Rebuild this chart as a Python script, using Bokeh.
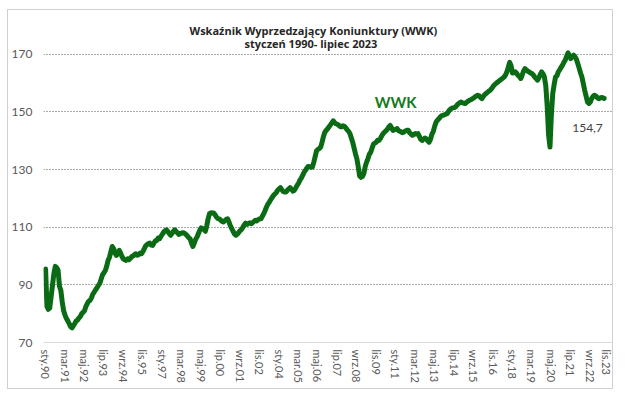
from bokeh.plotting import figure
from bokeh.models import Range1d, FixedTicker, Label, ColumnDataSource, Title
from bokeh.embed import file_html
from bokeh.resources import INLINE

# Monthly WWK values, Jan 1990 - Jul 2023
y1990 = [95.5, 82.5, 81.5, 82, 86, 90, 94, 96.4, 96, 95, 89.5, 88]
y1991 = [84, 81, 79.5, 78.3, 77.5, 76.5, 75.5, 75.1, 75.8, 76.6, 77.5, 77.8]
y1992 = [78.5, 79, 80, 80.5, 81, 82.5, 83.5, 84.3, 84.6, 85.5, 86.8, 87.5]
y1993 = [88.3, 89, 89.8, 90.5, 92, 93.5, 94.2, 95, 96.5, 98.5, 99.6, 101.5]
y1994 = [103.3, 102.5, 101, 100.2, 101, 102, 101, 99.8, 99, 98.7, 98.5, 99]
y1995 = [98.7, 99.2, 99.8, 100, 100.5, 100.8, 100.3, 100.5, 101, 100.8, 101.5, 102.5]
y1996 = [103.5, 104, 104.3, 104.5, 103.8, 103.7, 104.5, 105.3, 105.4, 106.2, 106, 106.8]
y1997 = [107.5, 108.3, 108.8, 109.1, 108.5, 107.8, 107.2, 107.8, 108.6, 109.1, 108.5, 108]
y1998 = [107.5, 107.8, 108, 108.1, 107.9, 107.5, 107, 106.4, 106, 104.5, 103.3, 104.5]
y1999 = [105.8, 106.6, 107.8, 109, 109.8, 109.5, 109.2, 108.6, 110.5, 113, 114.7, 115]
y2000 = [114.9, 114.9, 114.3, 113.5, 113, 112.9, 112.4, 112, 111.8, 112.3, 112.7, 112.9]
y2001 = [111.8, 110.5, 109.5, 108.5, 107.6, 107.2, 107.6, 108.2, 108.8, 109.2, 110, 110.8]
y2002 = [111.4, 111, 111.3, 111.5, 111.2, 111.6, 112, 112.4, 112.2, 112.6, 112.9, 112.9]
y2003 = [113.8, 114.7, 115.8, 117, 118, 118.7, 119.5, 120.3, 121, 121.5, 122, 122.8]
y2004 = [123.3, 123.7, 123, 122.4, 122.2, 122.2, 122.8, 123.3, 123.7, 123.2, 122.5, 122.8]
y2005 = [123.6, 124.5, 125.2, 126.3, 127, 128, 129, 129.7, 130.5, 131.1, 131, 130.8]
y2006 = [130.9, 132.5, 134.5, 136.5, 137, 137.3, 137.8, 139.5, 141.5, 143, 143.6, 144.2]
y2007 = [144.8, 145.5, 146.2, 146.9, 146.3, 145.9, 145.7, 145.4, 144.9, 144.8, 145.2, 145]
y2008 = [144.5, 143.8, 143.3, 142.5, 141, 139.5, 137.5, 135.5, 133.8, 131, 127.8, 127.3]
y2009 = [127.6, 128.5, 131, 132.5, 133.8, 135.3, 136, 137.5, 138.8, 139.2, 139.5, 140.2]
y2010 = [140.1, 140.8, 141.8, 142.5, 143, 143.5, 144, 144.8, 145.3, 144.5, 143.6, 143.8]
y2011 = [144, 144.2, 143.5, 143.3, 143, 142.8, 143.1, 143.4, 143.6, 143.6, 142.8, 142.3]
y2012 = [141.9, 142.2, 142.5, 142.3, 142.5, 141.5, 140.5, 140.1, 140.6, 140.9, 140.7, 140]
y2013 = [139.5, 140.5, 142.2, 143.2, 145, 146.4, 147.1, 147.6, 148.2, 148.7, 148.8, 149]
y2014 = [149.2, 149.4, 150.2, 150.8, 151.2, 151.4, 151.5, 151.7, 152.3, 152.8, 153.2, 153.4]
y2015 = [153.2, 153, 152.9, 153.3, 153.7, 154, 154.2, 154.5, 154.8, 155.2, 155.5, 155.8]
y2016 = [155.6, 155, 154.6, 155.3, 156, 156.4, 156.8, 157.2, 157.5, 158.1, 158.8, 159.4]
y2017 = [159.8, 160.2, 160.6, 161, 161.3, 161.7, 162.1, 162.8, 163.9, 165.5, 167.2, 166]
y2018 = [163.5, 163.6, 163.9, 163.4, 162.7, 162.3, 161.6, 162.8, 164.2, 165, 164.6, 164.1]
y2019 = [163.9, 163.5, 163.3, 162.8, 162.1, 161.6, 161, 161.8, 163, 163.9, 163.2, 162.1]
y2020 = [159, 152, 142, 137.8, 149, 156.4, 159.5, 162.1, 162.5, 163.9, 164.6, 165.5]
y2021 = [166.2, 167.2, 168, 169.3, 170.5, 169.5, 168.5, 169.2, 169.7, 169.2, 168.3, 166.8]
y2022 = [165.2, 163.5, 162.1, 159.8, 157.5, 155.5, 153.5, 152.9, 153.4, 154.6, 155.4, 155.8]
y2023 = [155.5, 155, 154.6, 154.8, 155, 154.9, 154.7]

wwk = (y1990 + y1991 + y1992 + y1993 + y1994 + y1995 + y1996 + y1997 + y1998
       + y1999 + y2000 + y2001 + y2002 + y2003 + y2004 + y2005 + y2006 + y2007
       + y2008 + y2009 + y2010 + y2011 + y2012 + y2013 + y2014 + y2015 + y2016
       + y2017 + y2018 + y2019 + y2020 + y2021 + y2022 + y2023)
month_idx = list(range(len(wwk)))

month_names = ["sty", "lut", "mar", "kwi", "maj", "cze", "lip", "sie", "wrz", "paź", "lis", "gru"]
tick_labels = ["sty.90", "mar.91", "maj.92", "lip.93", "wrz.94", "lis.95", "sty.97",
               "mar.98", "maj.99", "lip.00", "wrz.01", "lis.02", "sty.04", "mar.05",
               "maj.06", "lip.07", "wrz.08", "lis.09", "sty.11", "mar.12", "maj.13",
               "lip.14", "wrz.15", "lis.16", "sty.18", "mar.19", "maj.20", "lip.21",
               "wrz.22", "lis.23"]
y_ticks = [70, 90, 110, 130, 150, 170]
title_line1 = "Wskaźnik Wyprzedzający Koniunktury (WWK)"
title_line2 = "styczeń 1990- lipiec 2023"


def label_to_index(lbl):
    m, yy = lbl.split(".")
    yy = int(yy)
    year = 1900 + yy if yy >= 50 else 2000 + yy
    return (year - 1990) * 12 + month_names.index(m)


tick_pos = [label_to_index(t) for t in tick_labels]

FONT = "Lato"
TFONT = "Open Sans"
GREEN = "#0a6b14"

# the figure element itself carries the light chart-area border
p = figure(width=606, height=380, output_backend="svg", toolbar_location=None,
           x_range=Range1d(-1.5, 408), y_range=Range1d(70, 172),
           min_border_left=33, min_border_right=2, min_border_top=38,
           min_border_bottom=48, background_fill_color="white",
           border_fill_color=None)
p.styles = {"margin-left": "7px", "margin-top": "9px",
            "border": "1px solid #d0d0d0"}
p.outline_line_color = None

# two-line title (outer line = main title, inner line = period)
p.title.text = title_line1
p.title.align = "left"
p.title.offset = 146
p.title.text_font = TFONT
p.title.text_font_size = "11px"
p.title.text_font_style = "bold"
p.title.text_color = "#262626"
p.title.standoff = -4
p.add_layout(Title(text=title_line2, align="left", offset=201, text_font=TFONT,
                   text_font_size="11px", text_font_style="bold",
                   text_color="#262626", standoff=-4), "above")

src = ColumnDataSource(dict(x=month_idx, y=wwk))
p.line("x", "y", source=src, line_color=GREEN, line_width=5, line_join="round",
       line_cap="round")

# axes
p.xaxis.ticker = FixedTicker(ticks=tick_pos)
p.xaxis.major_label_overrides = {pos: lbl for pos, lbl in zip(tick_pos, tick_labels)}
p.xaxis.major_label_orientation = "vertical"
p.xaxis.axis_line_color = "#d9d9d9"
p.xaxis.major_tick_line_color = None
p.xaxis.minor_tick_line_color = None
p.xaxis.major_tick_out = 0
p.xaxis.minor_tick_out = 0
p.xaxis.major_label_text_font = FONT
p.xaxis.major_label_text_font_size = "11px"
p.xaxis.major_label_text_color = "#595959"
p.xaxis.major_label_standoff = 7

p.yaxis.ticker = FixedTicker(ticks=y_ticks)
p.yaxis.axis_line_color = None
p.yaxis.major_tick_line_color = None
p.yaxis.minor_tick_line_color = None
p.yaxis.major_tick_out = 0
p.yaxis.minor_tick_out = 0
p.yaxis.major_label_text_font = FONT
p.yaxis.major_label_text_font_size = "12px"
p.yaxis.major_label_text_color = "#595959"
p.yaxis.major_label_standoff = 11

p.xgrid.visible = False
p.ygrid.ticker = FixedTicker(ticks=[t for t in y_ticks if t > y_ticks[0]])
p.ygrid.grid_line_color = "#595959"
p.ygrid.grid_line_dash = "1 2"
p.ygrid.grid_line_width = 1

# annotations
p.add_layout(Label(x=252, y=153.3, text="WWK", text_font=FONT, text_font_size="15px",
                   text_font_style="bold", text_color="#127a20", text_align="center",
                   text_baseline="middle"))
last_txt = f"{wwk[-1]:.1f}".replace(".", ",")
p.add_layout(Label(x=month_idx[-1] - 1, y=144.3, text=last_txt, text_font=FONT,
                   text_font_size="12px", text_color="#404040", text_align="right",
                   text_baseline="middle"))

open("out.html", "w").write(file_html(p, INLINE))
